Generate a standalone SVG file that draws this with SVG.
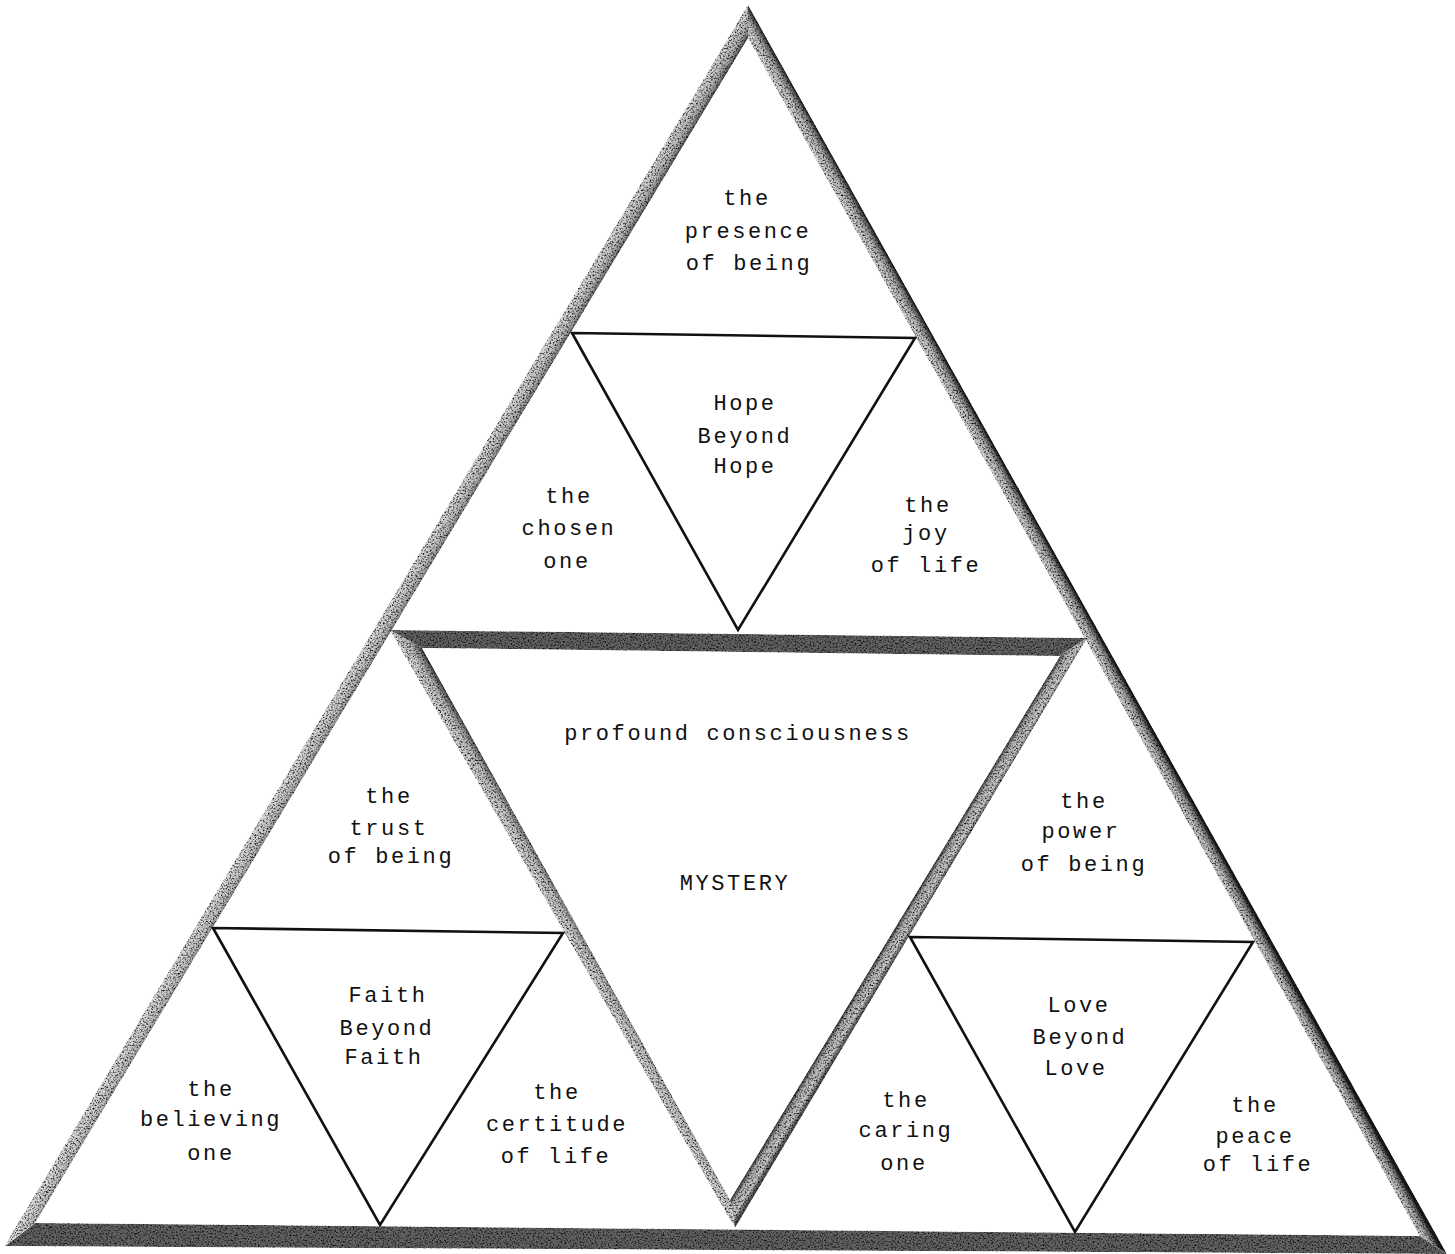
<svg xmlns="http://www.w3.org/2000/svg" width="1455" height="1254" viewBox="0 0 1455 1254">
<style>
  .lbl { font-family: "Liberation Mono", "DejaVu Sans Mono", monospace; font-size: 22px; letter-spacing: 2.6px; fill: #111; text-anchor: middle; }
  .thin { fill: none; stroke: #111; stroke-width: 2.6; stroke-linejoin: miter; }
  .dark { fill: #626262; }
</style>
<defs>
  <filter id="grain" filterUnits="userSpaceOnUse" x="0" y="0" width="1455" height="1254" color-interpolation-filters="sRGB">
    <feTurbulence type="fractalNoise" baseFrequency="0.6" numOctaves="2" seed="7" result="n"/>
    <feColorMatrix in="n" type="matrix" values="2.6 0 0 0 -0.4  2.6 0 0 0 -0.4  2.6 0 0 0 -0.4  0 0 0 0 1" result="g"/>
    <feBlend in="SourceGraphic" in2="g" mode="multiply" result="m"/>
    <feComposite in="m" in2="SourceGraphic" operator="in"/>
  </filter>
  <linearGradient id="gL" gradientUnits="userSpaceOnUse" x1="748" y1="5" x2="762.6" y2="13.7">
    <stop offset="0" stop-color="#d8d8d8"/>
    <stop offset="0.5" stop-color="#bcbcbc"/>
    <stop offset="0.8" stop-color="#8a8a8a"/>
    <stop offset="1" stop-color="#3a3a3a"/>
  </linearGradient>
  <linearGradient id="gR" gradientUnits="userSpaceOnUse" x1="748" y1="38" x2="762" y2="30.2">
    <stop offset="0" stop-color="#d8d8d8"/>
    <stop offset="0.5" stop-color="#b8b8b8"/>
    <stop offset="0.8" stop-color="#707070"/>
    <stop offset="1" stop-color="#1a1a1a"/>
  </linearGradient>
  <linearGradient id="gML" gradientUnits="userSpaceOnUse" x1="390" y1="630" x2="406.5" y2="620.5">
    <stop offset="0" stop-color="#d8d8d8"/>
    <stop offset="0.5" stop-color="#bcbcbc"/>
    <stop offset="0.8" stop-color="#7a7a7a"/>
    <stop offset="1" stop-color="#222222"/>
  </linearGradient>
  <linearGradient id="gMR" gradientUnits="userSpaceOnUse" x1="1060" y1="656" x2="1073.7" y2="664.3">
    <stop offset="0" stop-color="#3c3c3c"/>
    <stop offset="0.25" stop-color="#acacac"/>
    <stop offset="0.7" stop-color="#c8c8c8"/>
    <stop offset="1" stop-color="#505050"/>
  </linearGradient>
</defs>
<rect width="1455" height="1254" fill="#ffffff"/>

<g id="bands" filter="url(#grain)">
  <polygon id="outer-left" points="748,5 5,1245 35,1223 748,38" fill="url(#gL)"/>
  <polygon id="outer-right" points="748,5 748,38 1420,1236 1447,1254" fill="url(#gR)"/>
  <polygon id="outer-bottom" class="dark" points="35,1223 1420,1236 1447,1254 5,1246"/>
  <polygon id="mystery-left" points="390,630 422,648 730,1200 735,1228" fill="url(#gML)"/>
  <polygon id="mystery-right" points="1087,638 735,1228 730,1200 1060,656" fill="url(#gMR)"/>
  <polygon id="mystery-top" class="dark" points="390,630 1087,638 1060,656 422,648"/>
</g>

<g id="connectors">
  <polygon class="thin" points="572,333 915,338 738,630"/>
  <polygon class="thin" points="213,928 563,933 380,1225"/>
  <polygon class="thin" points="910,937 1253,942 1075,1232"/>
</g>

<g id="node-presence"><text class="lbl" x="747" y="205">the</text><text class="lbl" x="748" y="238">presence</text><text class="lbl" x="749" y="270">of being</text></g>
<g id="node-hope"><text class="lbl" x="745" y="410">Hope</text><text class="lbl" x="745" y="443">Beyond</text><text class="lbl" x="745" y="473">Hope</text></g>
<g id="node-chosen"><text class="lbl" x="569" y="503">the</text><text class="lbl" x="569" y="535">chosen</text><text class="lbl" x="567" y="568">one</text></g>
<g id="node-joy"><text class="lbl" x="928" y="512">the</text><text class="lbl" x="926" y="540">joy</text><text class="lbl" x="926" y="572">of life</text></g>
<g id="node-mystery"><text class="lbl" x="738" y="740">profound consciousness</text><text class="lbl" x="735" y="890">MYSTERY</text></g>
<g id="node-trust"><text class="lbl" x="389" y="803">the</text><text class="lbl" x="389" y="835">trust</text><text class="lbl" x="391" y="863">of being</text></g>
<g id="node-power"><text class="lbl" x="1084" y="808">the</text><text class="lbl" x="1081" y="838">power</text><text class="lbl" x="1084" y="871">of being</text></g>
<g id="node-faith"><text class="lbl" x="388" y="1002">Faith</text><text class="lbl" x="387" y="1035">Beyond</text><text class="lbl" x="384" y="1064">Faith</text></g>
<g id="node-believing"><text class="lbl" x="211" y="1096">the</text><text class="lbl" x="211" y="1126">believing</text><text class="lbl" x="211" y="1160">one</text></g>
<g id="node-certitude"><text class="lbl" x="557" y="1099">the</text><text class="lbl" x="557" y="1131">certitude</text><text class="lbl" x="556" y="1163">of life</text></g>
<g id="node-love"><text class="lbl" x="1079" y="1012">Love</text><text class="lbl" x="1080" y="1044">Beyond</text><text class="lbl" x="1076" y="1075">Love</text></g>
<g id="node-caring"><text class="lbl" x="906" y="1107">the</text><text class="lbl" x="906" y="1137">caring</text><text class="lbl" x="904" y="1170">one</text></g>
<g id="node-peace"><text class="lbl" x="1255" y="1112">the</text><text class="lbl" x="1255" y="1143">peace</text><text class="lbl" x="1258" y="1171">of life</text></g>
</svg>
